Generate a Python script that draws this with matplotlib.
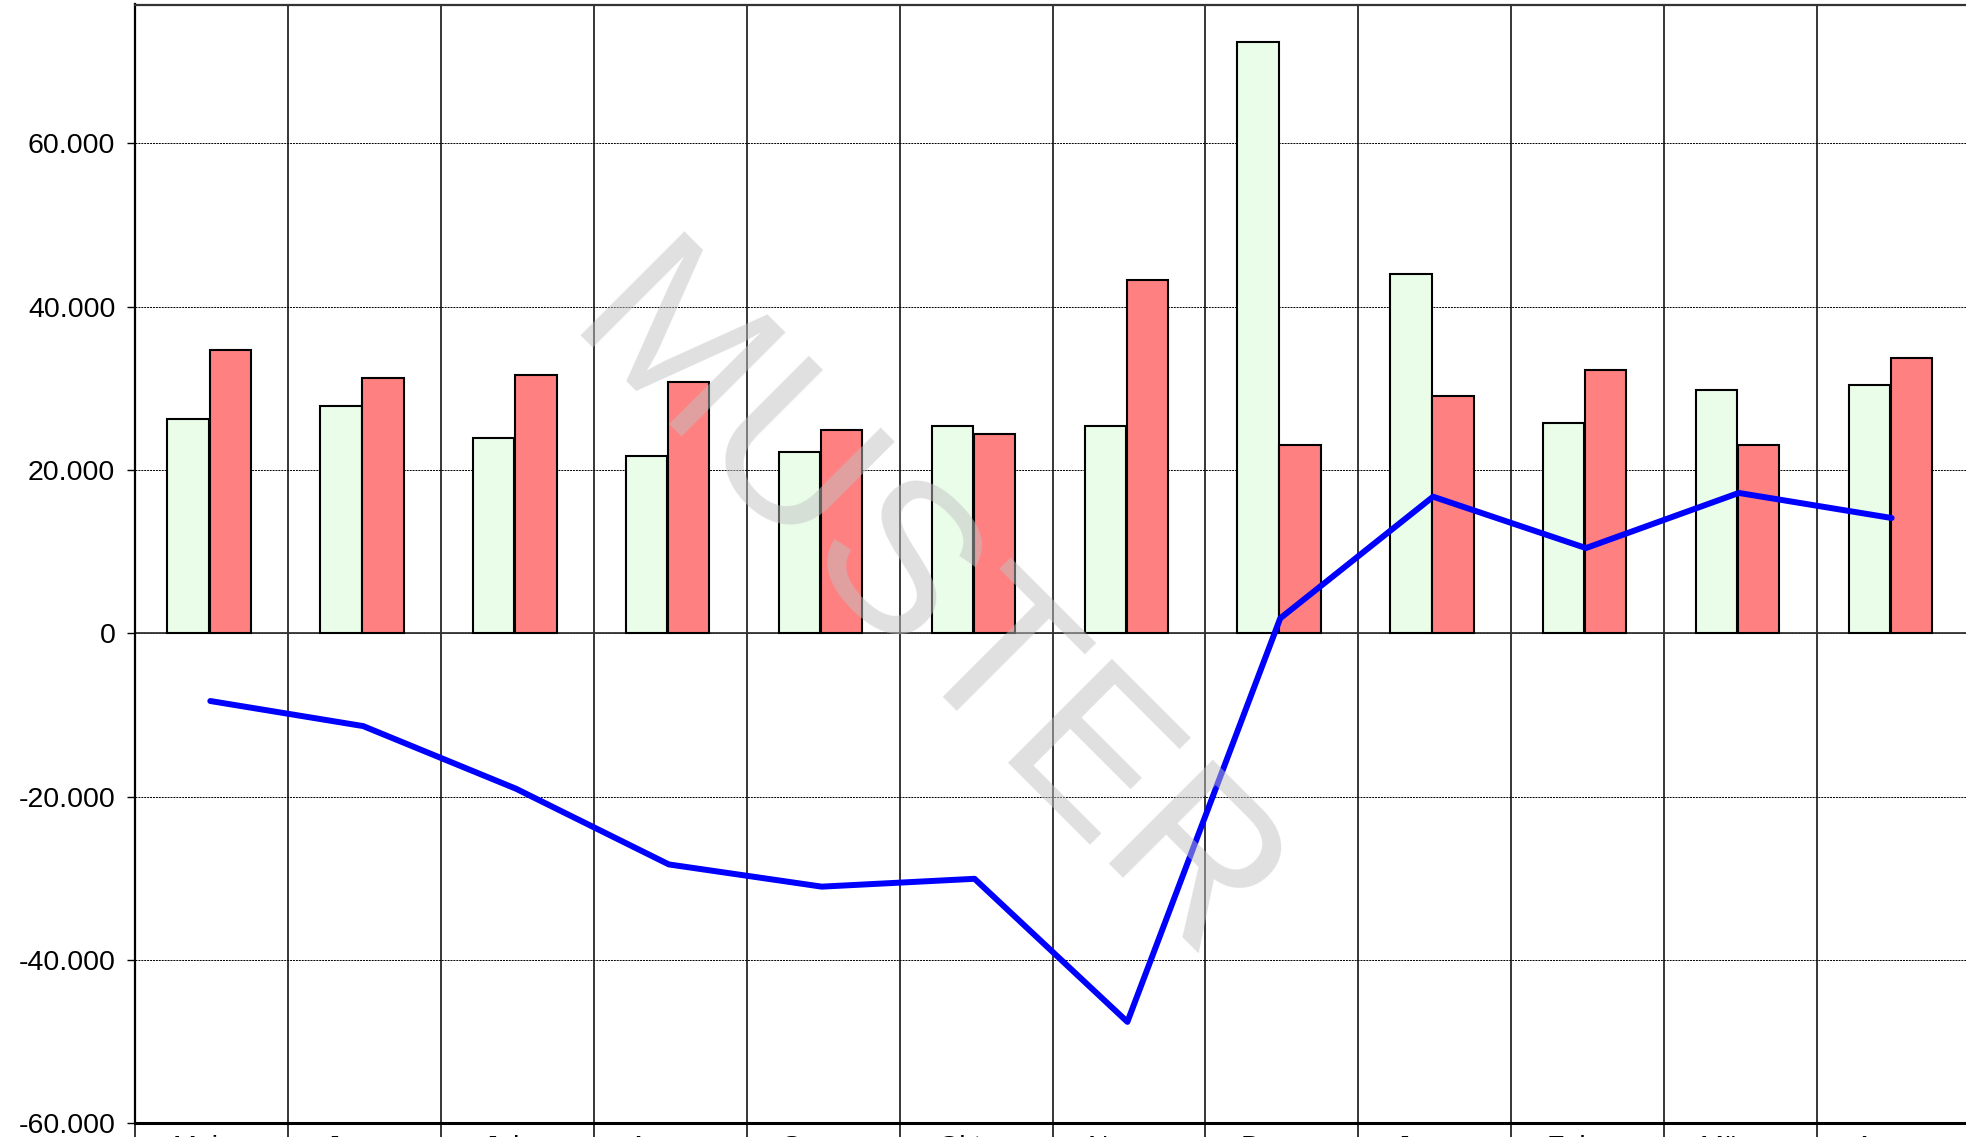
import matplotlib
matplotlib.use("Agg")
import matplotlib.pyplot as plt
import matplotlib.transforms as mtransforms
from matplotlib.ticker import FuncFormatter, FixedLocator
import numpy as np

plt.rcParams['font.family'] = ['Liberation Sans', 'DejaVu Sans']

# ---- data ----
months = ["Mai", "Jun", "Jul", "Aug", "Sep", "Okt", "Nov", "Dez", "Jan", "Feb", "Mär", "Apr"]
green_values = [26300, 27780, 23940, 21750, 22240, 25420, 25440, 72450, 44050, 25790, 29780, 30390]
red_values = [34650, 31250, 31620, 30830, 24950, 24460, 43300, 23020, 29010, 32230, 23020, 33770]
line_values = [-8290, -11360, -19030, -28300, -31020, -30060, -47580, 1840, 16730, 10440, 17190, 14120]
y_ticks = [-60000, -40000, -20000, 0, 20000, 40000, 60000]
watermark = "MUSTER"

W, H = 1966, 1137
fig = plt.figure(figsize=(W / 100, H / 100), dpi=100)
ax = fig.add_axes([135.4 / W, (H - 1123.3) / H, 1834.2 / W, (1123.3 - 4.5) / H])

x = np.arange(len(months))
ax.bar(x - 0.155, green_values, width=0.27, color="#EAFDE9", edgecolor="black", linewidth=1.5, zorder=3)
ax.bar(x + 0.12, red_values, width=0.27, color="#FF8080", edgecolor="black", linewidth=1.5, zorder=3)
ax.plot(x - 0.01, line_values, color="#0000FF", linewidth=4.3, zorder=4, solid_capstyle="round")

ax.axhline(0, color="#333333", linewidth=1.3, zorder=2)

ax.set_xlim(-0.5, len(months) - 0.5)
ax.set_ylim(-60000, 77000)

# y axis
ax.set_yticks(y_ticks)
ax.yaxis.set_major_formatter(FuncFormatter(lambda v, p: "0" if v == 0 else f"{int(v):,}".replace(",", ".")))
ax.tick_params(axis="y", length=6, width=1.0, pad=8.5, labelsize=20.5, color="black")
ax.yaxis.grid(True, color="black", linestyle=(0, (2, 1)), linewidth=0.7, zorder=1)

# x axis: boundaries as major ticks/grid, labels on minor ticks at centers
ax.xaxis.set_major_locator(FixedLocator(np.arange(-0.5, len(months), 1.0)))
ax.xaxis.set_major_formatter(FuncFormatter(lambda v, p: ""))
ax.xaxis.set_minor_locator(FixedLocator(x))
ax.set_xticklabels(months, minor=True)
ax.tick_params(axis="x", which="major", length=15, width=1.1, color="black")
ax.tick_params(axis="x", which="minor", length=0, pad=8.3, labelsize=20.5)
ax.xaxis.grid(True, which="major", color="black", linestyle="-", linewidth=1.1, zorder=1)
offset = mtransforms.ScaledTranslation(-16 / 100, 0, fig.dpi_scale_trans)
for lbl in ax.xaxis.get_minorticklabels():
    lbl.set_transform(lbl.get_transform() + offset)

ax.spines["left"].set_linewidth(1.6)
ax.spines["left"].set_color("black")
ax.spines["bottom"].set_linewidth(2.2)
ax.spines["bottom"].set_color("black")
ax.spines["top"].set_linewidth(1.6)
ax.spines["top"].set_color("#333333")
ax.spines["right"].set_visible(False)

fig.text(920 / W, 1 - 614 / H, watermark, fontsize=154, rotation=-45, rotation_mode="anchor",
         ha="center", va="center", color="#C1C1C1", alpha=0.5, zorder=10)

fig.savefig("out.png", dpi=100)
